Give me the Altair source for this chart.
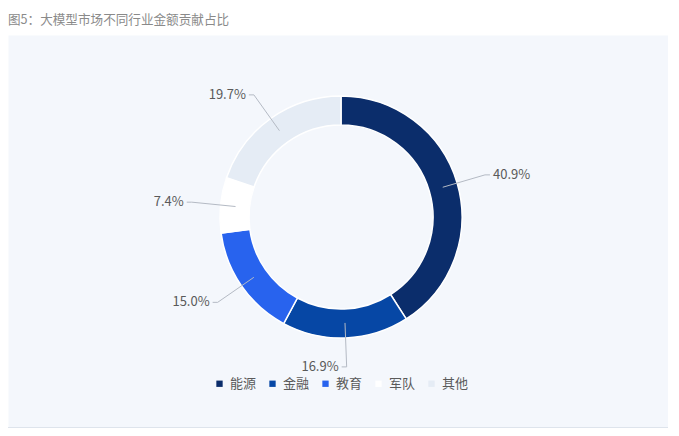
import altair as alt
import pandas as pd

# ---- data ----
industries = ["能源", "金融", "教育", "军队", "其他"]
shares = [40.9, 16.9, 15.0, 7.4, 19.7]
colors = ["#0b2d6b", "#0647a5", "#2863ee", "#ffffff", "#e5ecf5"]
title_text = "图5：大模型市场不同行业金额贡献占比"

df = pd.DataFrame({"industry": industries, "share": shares, "idx": list(range(len(industries)))})

W, H = 660, 393
FONT = "Noto Sans CJK SC"

xs = alt.Scale(domain=[-333, 327])
ys = alt.Scale(domain=[-211, 182])

color = alt.Color(
    "industry:N",
    scale=alt.Scale(domain=industries, range=colors),
    sort=industries,
    legend=alt.Legend(
        title=None,
        orient="none",
        legendX=205,
        legendY=342,
        direction="horizontal",
        symbolType="square",
        symbolSize=40,
        symbolStrokeWidth=0,
        labelFont=FONT,
        labelFontSize=13,
        labelColor="#5a5a5a",
        labelOffset=4,
        columnPadding=9,
        padding=0,
    ),
)

base = alt.Chart(df)

arc = base.mark_arc(innerRadius=92, outerRadius=121, stroke="#ffffff", strokeWidth=1.5).encode(
    theta=alt.Theta("share:Q", stack=True),
    order=alt.Order("idx:Q"),
    color=color,
    x=alt.X(datum=0, type="quantitative", scale=xs, axis=None),
    y=alt.Y(datum=0, type="quantitative", scale=ys, axis=None),
)

geo = (
    base.transform_joinaggregate(total="sum(share)")
    .transform_window(cum="sum(share)", sort=[alt.SortField("idx")], frame=[None, 0])
    .transform_calculate(mid="(datum.cum - datum.share/2)/datum.total*2*PI")
    .transform_calculate(
        ax="106*sin(datum.mid)",
        ay="106*cos(datum.mid)",
        ex="150*sin(datum.mid)",
        ey="150*cos(datum.mid)",
    )
    .transform_calculate(
        tx="datum.ex > 10 ? datum.ex + 5 : datum.ex - 5",
        label="format(datum.share, '.1f') + '%'",
    )
)

line1 = geo.mark_rule(color="#b4bac4", strokeWidth=1).encode(
    x=alt.X("ax:Q", scale=xs, axis=None),
    y=alt.Y("ay:Q", scale=ys, axis=None),
    x2="ex:Q",
    y2="ey:Q",
)
line2 = geo.mark_rule(color="#b4bac4", strokeWidth=1).encode(
    x=alt.X("ex:Q", scale=xs, axis=None),
    y=alt.Y("ey:Q", scale=ys, axis=None),
    x2="tx:Q",
    y2="ey:Q",
)

txt_r = geo.transform_filter("datum.ex > 10").mark_text(
    align="left", baseline="middle", dx=3, font=FONT, fontSize=13, color="#5a5a5a"
).encode(
    x=alt.X("tx:Q", scale=xs, axis=None),
    y=alt.Y("ey:Q", scale=ys, axis=None),
    text="label:N",
)
txt_l = geo.transform_filter("datum.ex <= 10").mark_text(
    align="right", baseline="middle", dx=-3, font=FONT, fontSize=13, color="#5a5a5a"
).encode(
    x=alt.X("tx:Q", scale=xs, axis=None),
    y=alt.Y("ey:Q", scale=ys, axis=None),
    text="label:N",
)

bottom = base.mark_rule(color="#dde3ec", strokeWidth=1.2).encode(
    x=alt.value(0), x2=alt.value(W), y=alt.value(H)
)

chart = (
    alt.layer(arc, line1, line2, txt_r, txt_l, bottom)
    .properties(
        width=W,
        height=H,
        autosize=alt.AutoSizeParams(type="none"),
        padding={"left": 0, "top": 27, "right": 0, "bottom": 0},
        background="#ffffff",
        title=alt.Title(
            title_text,
            anchor="start",
            frame="group",
            offset=8,
            font=FONT,
            fontSize=12.6,
            fontWeight="normal",
            color="#8a8a8a",
        ),
    )
    .configure_view(fill="#f4f7fc", stroke="transparent")
)

chart.save("out.html", embed_options={"renderer": "svg", "actions": False})
